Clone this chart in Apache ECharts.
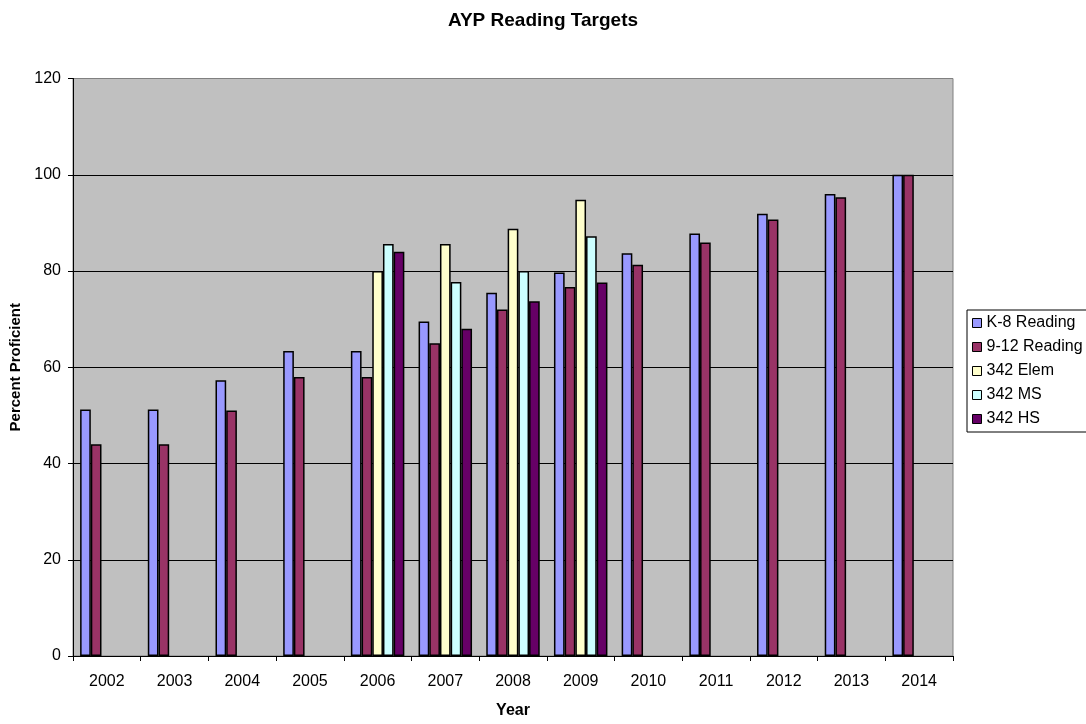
<!DOCTYPE html>
<html>
<head>
<meta charset="utf-8">
<script src="https://cdn.jsdelivr.net/npm/echarts@6/dist/echarts.min.js"></script>
<style>
html,body{margin:0;padding:0;background:#fff;}
#chart{width:1086px;height:724px;}
</style>
</head>
<body>
<div id="chart"></div>
<script>
var years = ['2002','2003','2004','2005','2006','2007','2008','2009','2010','2011','2012','2013','2014'];
var k8Reading  = [51.2, 51.2, 57.3, 63.4, 63.4, 69.5, 75.5, 79.7, 83.7, 87.8, 91.9, 96.0, 100];
var r912Reading = [44.0, 44.0, 51.0, 58.0, 58.0, 65.0, 72.0, 76.7, 81.3, 85.9, 90.7, 95.3, 100];
var elem342 = [null, null, null, null, 80.0, 85.6, 88.8, 94.8, null, null, null, null, null];
var ms342   = [null, null, null, null, 85.6, 77.7, 80.0, 87.2, null, null, null, null, null];
var hs342   = [null, null, null, null, 84.0, 68.0, 73.7, 77.6, null, null, null, null, null];
var seriesNames = ['K-8 Reading', '9-12 Reading', '342 Elem', '342 MS', '342 HS'];
var seriesData = [k8Reading, r912Reading, elem342, ms342, hs342];
var seriesColors = ['#9999FF', '#993366', '#FFFFCC', '#CCFFFF', '#660066'];

var FONT = '"Liberation Sans", Arial, sans-serif';
var chart = echarts.init(document.getElementById('chart'), null, {renderer: 'canvas'});

var series = seriesNames.map(function (name, i) {
  return {
    name: name,
    type: 'bar',
    data: seriesData[i],
    barGap: '0%',
    barCategoryGap: '21%',
    itemStyle: {color: seriesColors[i], borderColor: '#000', borderWidth: 1.5},
    emphasis: {disabled: true}
  };
});

chart.setOption({
  animation: false,
  backgroundColor: '#fff',
  title: {
    text: 'AYP Reading Targets',
    left: 'center',
    top: 6,
    textStyle: {fontFamily: FONT, fontSize: 19, fontWeight: 'bold', color: '#000'}
  },
  grid: {
    left: 73, right: 133, top: 78.5, bottom: 62.3,
    show: true, backgroundColor: '#C0C0C0', borderColor: '#808080', borderWidth: 1,
    containLabel: false
  },
  legend: {
    orient: 'vertical',
    left: 967, top: 310,
    padding: [5, 60, 5, 5],
    borderColor: '#000', borderWidth: 1,
    backgroundColor: '#fff',
    itemWidth: 9, itemHeight: 9, itemGap: 8,
    icon: 'rect',
    itemStyle: {borderWidth: 1},
    textStyle: {fontFamily: FONT, fontSize: 16, lineHeight: 16, color: '#000'},
    data: seriesNames
  },
  xAxis: {
    type: 'category',
    data: years,
    name: 'Year',
    nameLocation: 'middle',
    nameGap: 47,
    nameTextStyle: {fontFamily: FONT, fontSize: 16, fontWeight: 'bold', color: '#000'},
    axisLine: {lineStyle: {color: '#000', width: 1}},
    axisTick: {show: true, alignWithLabel: false, length: 5, lineStyle: {color: '#000'}},
    axisLabel: {fontFamily: FONT, fontSize: 16, color: '#000', margin: 18, interval: 0}
  },
  yAxis: {
    type: 'value',
    min: 0, max: 120, interval: 20,
    name: 'Percent Proficient',
    nameLocation: 'middle',
    nameGap: 48,
    nameTextStyle: {fontFamily: FONT, fontSize: 15, fontWeight: 'bold', color: '#000'},
    axisLine: {show: true, lineStyle: {color: '#000', width: 1}},
    axisTick: {show: true, length: 5, lineStyle: {color: '#000'}},
    axisLabel: {fontFamily: FONT, fontSize: 16, color: '#000', margin: 12},
    splitLine: {show: true, lineStyle: {color: ['#000','#000','#000','#000','#000','#000','#808080'], width: 1}}
  },
  series: series
});
</script>
</body>
</html>
